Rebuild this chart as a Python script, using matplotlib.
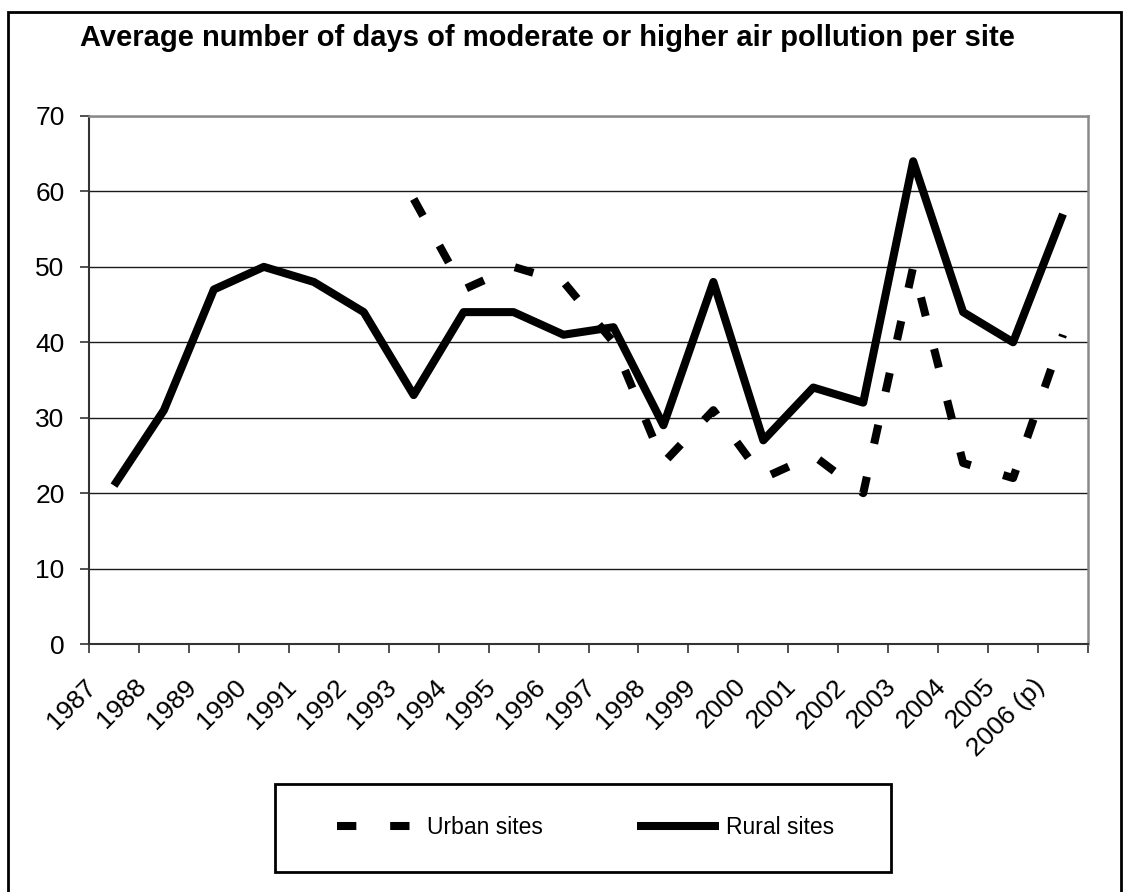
import matplotlib
matplotlib.use("Agg")
import matplotlib.pyplot as plt
import matplotlib.transforms as mtransforms
from matplotlib.patches import Rectangle
from matplotlib.lines import Line2D
import numpy as np

plt.rcParams["font.family"] = ["Liberation Sans", "DejaVu Sans"]

years = ["1987", "1988", "1989", "1990", "1991", "1992", "1993", "1994", "1995",
         "1996", "1997", "1998", "1999", "2000", "2001", "2002", "2003", "2004",
         "2005", "2006 (p)"]

# urban monitoring only starts in 1993
urban_years = years[6:]
urban_days = [59, 47, 50, 48, 40, 24, 31, 22, 25, 20, 50, 24, 22, 41]

rural_days = [21, 31, 47, 50, 48, 44, 33, 44, 44, 41, 42, 29, 48, 27, 34, 32,
              64, 44, 40, 57]

TITLE = "Average number of days of moderate or higher air pollution per site"

W, H = 1126, 892
fig = plt.figure(figsize=(W / 100, H / 100), dpi=100)


def px(x0, y0, x1, y1):
    """pixel box (top-left origin) -> figure-fraction [l, b, w, h]"""
    return [x0 / W, 1 - y1 / H, (x1 - x0) / W, (y1 - y0) / H]


ax = fig.add_axes(px(89, 116, 1088, 644))

x_all = np.arange(len(years))
x_urban = np.array([years.index(y) for y in urban_years])

dash = (0, (2.4, 4.2))
ax.plot(x_urban, urban_days, color="black", lw=5.8, linestyle=dash,
        dash_capstyle="butt", zorder=3)
ax.plot(x_all, rural_days, color="black", lw=5.8,
        solid_joinstyle="round", solid_capstyle="butt", zorder=4)

ax.set_xlim(-0.5, len(years) - 0.5)
ax.set_ylim(0, 70)
ax.set_yticks(range(0, 71, 10))
ax.yaxis.grid(True, color="#1a1a1a", lw=1.0)
ax.set_axisbelow(True)

# category labels at the centres, tick marks on the boundaries
ax.set_xticks(x_all)
ax.set_xticklabels(years, rotation=45, ha="right", va="top")
ax.set_xticks(np.arange(len(years) + 1) - 0.5, minor=True)
ax.tick_params(axis="x", which="major", length=0, pad=22, labelsize=19)
ax.tick_params(axis="x", which="minor", length=6.5, width=1.2,
               color="#333333", direction="out")
ax.tick_params(axis="y", length=6.5, width=1.2, color="#333333",
               direction="out", pad=11, labelsize=19)

shift = mtransforms.ScaledTranslation(-0.13, 0, fig.dpi_scale_trans)
for lbl in ax.get_xticklabels():
    lbl.set_transform(lbl.get_transform() + shift)

for side in ("left", "bottom"):
    ax.spines[side].set_color("#333333")
    ax.spines[side].set_linewidth(1.5)
for side in ("top", "right"):
    ax.spines[side].set_color("#8a8a8a")
    ax.spines[side].set_linewidth(1.8)

fig.text(80 / W, 1 - 38 / H, TITLE, fontsize=21, fontweight="bold",
         ha="left", va="center")

# outer chart frame (open at the bottom edge of the image)
fig.patches.append(Rectangle((8 / W, -0.05), (1121 - 8) / W, 1.05 - 12 / H,
                             transform=fig.transFigure, fill=False,
                             edgecolor="black", lw=2.0))

# legend box
lx = px(275, 784, 891, 872)
fig.patches.append(Rectangle((lx[0], lx[1]), lx[2], lx[3],
                             transform=fig.transFigure, fill=False,
                             edgecolor="black", lw=2.0))
handles = [
    Line2D([], [], color="black", lw=5.8, linestyle=dash, dash_capstyle="butt"),
    Line2D([], [], color="black", lw=5.8, solid_capstyle="butt"),
]
fig.legend(handles, ["Urban sites", "Rural sites"], ncol=2, frameon=False,
           loc="center left", bbox_to_anchor=(326 / W, 1 - 828 / H),
           borderpad=0, fontsize=16.5, handlelength=3.6, handletextpad=0.3,
           columnspacing=4.1)

fig.savefig("out.png", dpi=100)
